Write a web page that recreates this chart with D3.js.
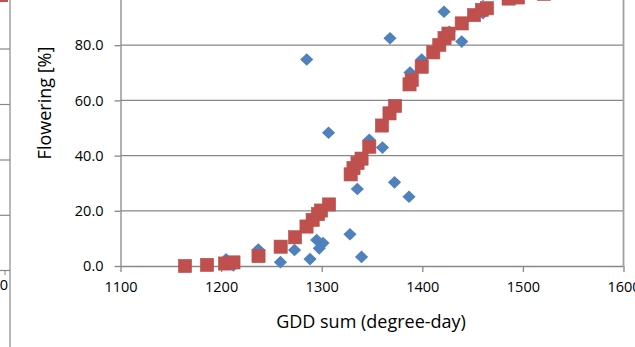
<!DOCTYPE html>
<html>
<head>
<meta charset="utf-8">
<script src="https://cdn.jsdelivr.net/npm/d3@7"></script>
<style>
  body { margin: 0; background: #fff; }
  svg { display: block; font-family: "Open Sans", sans-serif; }
  .tick text { fill: #000; }
</style>
</head>
<body>
<svg width="635" height="347"></svg>
<script>
// observed: blue diamonds
var obsGdd = [1204.9, 1212.1, 1237, 1259, 1273, 1285.1, 1288.4, 1295, 1301.3, 1297.6,
              1306.8, 1328.1, 1335.4, 1339.6, 1347.3, 1360.4, 1367.9, 1372.4, 1386.8, 1387.8,
              1399.4, 1421.6, 1426.8, 1439.2, 1460.3, 1460.3];
var obsPct = [2.4, 0.2, 6.0, 1.4, 5.8, 74.8, 2.5, 9.4, 8.3, 6.4,
              48.3, 11.5, 27.9, 3.3, 45.7, 42.9, 82.5, 30.3, 25.1, 70.1,
              74.8, 92.1, 84.9, 81.3, 91.6, 98.2];

// modelled: red squares
var modGdd = [1164.1, 1186, 1203.9, 1212.3, 1237.2, 1259.2, 1273.5, 1284.9, 1291, 1296.3,
              1299.3, 1307.3, 1328.8, 1331.6, 1335.6, 1339.6, 1347.3, 1359.9, 1367.4, 1372.9,
              1387.3, 1389.5, 1399.4, 1410.9, 1416.9, 1422.1, 1426, 1439.2, 1451.4, 1459.3,
              1464.3, 1485.8, 1495.1, 1521];
var modPct = [0, 0.4, 0.9, 1.3, 3.6, 7.0, 10.4, 14.3, 16.7, 18.8,
              20.1, 22.3, 33.2, 35.5, 37.3, 38.9, 43.2, 50.9, 55.3, 58,
              65.8, 67.4, 72.2, 77.4, 80.1, 82.6, 84.2, 87.9, 90.9, 92.8,
              93.4, 96.9, 97.3, 98.6];

var xTicks = [1100, 1200, 1300, 1400, 1500, 1600];
var yTicks = [0, 20, 40, 60, 80];   // 100 sits above the cropped top edge

var svg = d3.select("svg");
var grey = "#878787";

var x = d3.scaleLinear().domain([1100, 1600]).range([120.5, 623.5]);
var y = d3.scaleLinear().domain([0, 100]).range([266, -10]);

// bits of the neighbouring chart on the left edge
var g0 = svg.append("g");
g0.append("line").attr("x1", 10).attr("x2", 10).attr("y1", 0).attr("y2", 347)
  .attr("stroke", "#a0a0a0").attr("stroke-width", 1.5);
[49, 104.5, 160, 215.3].forEach(function(v) {
  g0.append("line").attr("x1", 0).attr("x2", 10).attr("y1", v).attr("y2", v)
    .attr("stroke", grey).attr("stroke-width", 1.2);
});
g0.append("line").attr("x1", 0).attr("x2", 10).attr("y1", 270.5).attr("y2", 270.5)
  .attr("stroke", grey).attr("stroke-width", 1.2);
g0.append("line").attr("x1", 5).attr("x2", 5).attr("y1", 270.5).attr("y2", 275)
  .attr("stroke", grey).attr("stroke-width", 1);
g0.append("text").attr("x", 8).attr("y", 290).attr("text-anchor", "end")
  .style("font-size", "14.5px").text("1700");
g0.append("rect").attr("x", 0).attr("y", 0).attr("width", 8).attr("height", 2)
  .attr("fill", "#C0504D");

// gridlines
svg.append("g").selectAll("line").data(yTicks.filter(function(d) { return d > 0; }))
  .enter().append("line")
  .attr("x1", 120.5).attr("x2", 623.5)
  .attr("y1", function(d) { return y(d); }).attr("y2", function(d) { return y(d); })
  .attr("stroke", grey).attr("stroke-width", 1.3);

// right border of the plot area
svg.append("line").attr("x1", 623.5).attr("x2", 623.5).attr("y1", 0).attr("y2", 266)
  .attr("stroke", "#a0a0a0").attr("stroke-width", 1.8);

var xAxis = svg.append("g")
    .attr("transform", "translate(0,266)")
    .call(d3.axisBottom(x).tickValues(xTicks).tickSize(6).tickPadding(10).tickFormat(d3.format("d")));

var yAxis = svg.append("g")
    .attr("transform", "translate(120.5,0)")
    .call(d3.axisLeft(y).tickValues(yTicks).tickSize(6).tickPadding(11).tickFormat(d3.format(".1f")));

[xAxis, yAxis].forEach(function(a) {
  a.select(".domain").attr("stroke", grey).attr("stroke-width", 1.3);
  a.selectAll(".tick line").attr("stroke", grey).attr("stroke-width", 1.3);
  a.selectAll(".tick text").style("font-size", "14.5px").style("font-family", "Open Sans");
});
xAxis.select(".domain").attr("d", "M120.5,0.5H623.5");
yAxis.select(".domain").attr("d", "M0.5,0V266");

// markers
var plot = svg.append("g");

plot.selectAll(".obs")
    .data(obsGdd.map(function(g, i) { return [g, obsPct[i]]; }))
  .enter().append("path")
    .attr("class", "obs")
    .attr("d", function(d) {
      var cx = x(d[0]), cy = y(d[1]);
      return "M" + cx + "," + (cy - 6.3) + "L" + (cx + 6.6) + "," + cy +
             "L" + cx + "," + (cy + 6.3) + "L" + (cx - 6.6) + "," + cy + "Z";
    })
    .attr("fill", "#4F81BD");

plot.selectAll(".mod")
    .data(modGdd.map(function(g, i) { return [g, modPct[i]]; }))
  .enter().append("rect")
    .attr("class", "mod")
    .attr("x", function(d) { return x(d[0]) - 6.6; })
    .attr("y", function(d) { return y(d[1]) - 6.6; })
    .attr("width", 13.2).attr("height", 13.2)
    .attr("fill", "#C0504D")
    .attr("stroke", "#B9504C").attr("stroke-width", 0.6);

// axis titles
svg.append("text")
    .attr("x", 371).attr("y", 328)
    .attr("text-anchor", "middle")
    .style("font-size", "18px")
    .text("GDD sum (degree-day)");

svg.append("text")
    .attr("transform", "translate(51,103) rotate(-90)")
    .attr("text-anchor", "middle")
    .style("font-size", "18px")
    .text("Flowering [%]");
</script>
</body>
</html>
